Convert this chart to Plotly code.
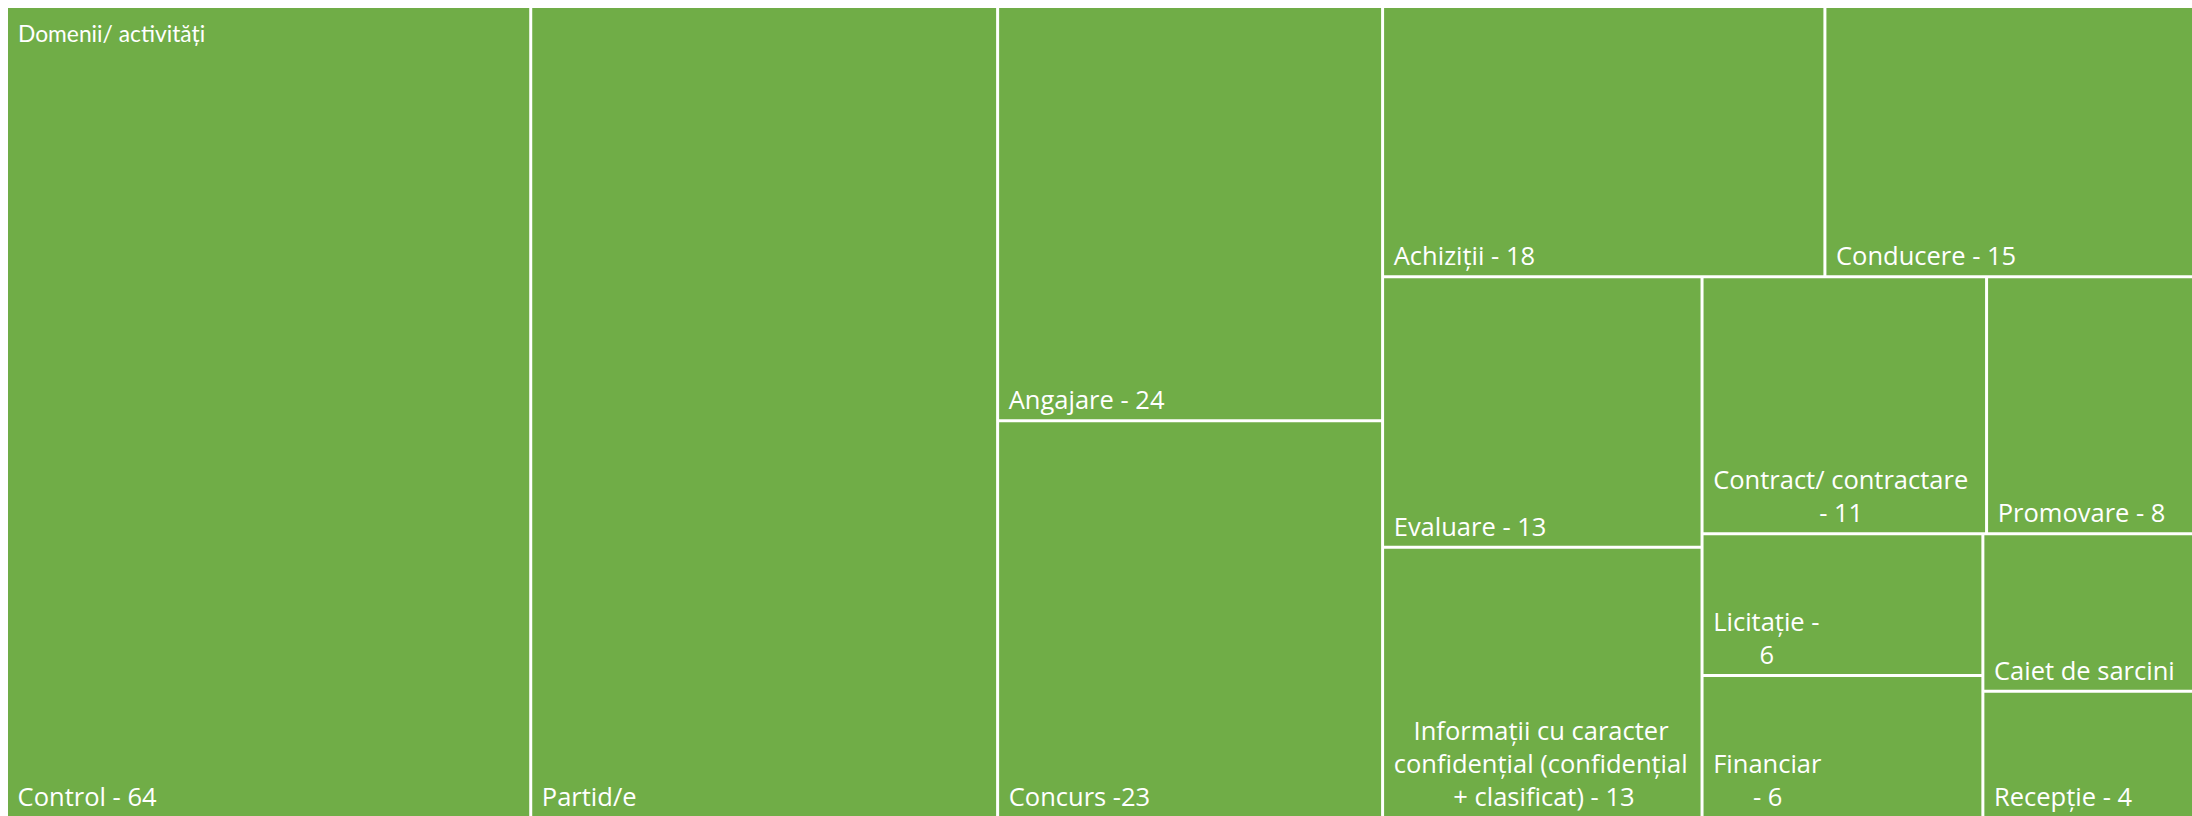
import plotly.graph_objects as go

# Domains of activity and how often each was mentioned
root_label = "Domenii/ activități"
categories = [
    "Control", "Partid/e", "Angajare", "Concurs", "Achiziții", "Conducere",
    "Evaluare", "Informații cu caracter confidențial", "Contract/ contractare",
    "Promovare", "Licitație", "Financiar", "Caiet de sarcini", "Recepție",
]
counts = [64, 57, 24, 23, 18, 15, 13, 13, 11, 8, 6, 6, 5, 4]
# Tile captions, one list of lines per tile
tile_lines = [
    ["Control - 64"],
    ["Partid/e"],
    ["Angajare - 24"],
    ["Concurs -23"],
    ["Achiziții - 18"],
    ["Conducere - 15"],
    ["Evaluare - 13"],
    ["Informații cu caracter", "confidențial (confidențial", "+ clasificat) - 13"],
    ["Contract/ contractare", "- 11"],
    ["Promovare - 8"],
    ["Licitație -", "6"],
    ["Financiar", "- 6"],
    ["Caiet de sarcini"],
    ["Recepție - 4"],
]

GREEN = "#70AD47"
FONT = "Open Sans"
TITLE_FONT = "Lato"
LABEL_SIZE = 25.5
TITLE_SIZE = 22.8
NBSP = "\u00a0"

# Approximate Open Sans advance widths (em) used to centre wrapped lines
_EM = {
    " ": 0.26, "-": 0.322, "/": 0.368, "(": 0.297, ")": 0.297, "+": 0.572,
    "a": 0.556, "c": 0.476, "d": 0.613, "e": 0.561, "f": 0.339, "i": 0.253,
    "l": 0.253, "m": 0.93, "n": 0.614, "o": 0.604, "r": 0.408, "s": 0.477,
    "t": 0.353, "ț": 0.353, "u": 0.614, "C": 0.633, "F": 0.546, "I": 0.269,
    "L": 0.502,
}


def text_em(s):
    return sum(_EM.get(ch, 0.572 if ch.isdigit() else 0.55) for ch in s)


def caption(lines):
    """Indent every line by one space and centre shorter lines under the widest."""
    widest = max(text_em(ln) for ln in lines)
    out = []
    for ln in lines:
        extra = round((widest - text_em(ln)) / 2 / _EM[" "])
        out.append(NBSP * (1 + extra) + ln)
    return "<br>".join(out)


tile_text = [caption(lines) for lines in tile_lines]

fig = go.Figure(
    go.Treemap(
        labels=categories,
        parents=[""] * len(categories),
        values=counts,
        text=tile_text,
        texttemplate="%{text}",
        textposition="bottom left",
        textfont=dict(family=FONT, size=LABEL_SIZE, color="white"),
        marker=dict(
            colors=[GREEN] * len(categories),
            line=dict(width=0),
            pad=dict(t=0, l=0, r=0, b=0),
        ),
        tiling=dict(packing="squarify", pad=3),
        pathbar=dict(visible=False),
        root=dict(color="white"),
        hoverinfo="label+value",
    )
)

fig.add_annotation(
    text=root_label,
    xref="paper", yref="paper",
    x=0, y=1, xanchor="left", yanchor="top",
    xshift=8, yshift=-9,
    showarrow=False,
    font=dict(family=TITLE_FONT, size=TITLE_SIZE, color="white"),
)

fig.update_layout(
    width=2192,
    height=816,
    margin=dict(l=8, t=8, r=0, b=0),
    paper_bgcolor="white",
    plot_bgcolor="white",
    uniformtext=dict(minsize=LABEL_SIZE, mode="show"),
    showlegend=False,
)

fig.write_html("out.html")
